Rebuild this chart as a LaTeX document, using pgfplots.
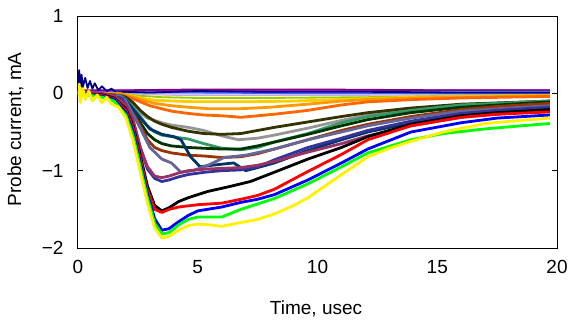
\documentclass[border=0pt]{standalone}
\usepackage{fontspec}
\setmainfont{Liberation Sans}
\usepackage{pgfplots}
\pgfplotsset{compat=1.18}
\definecolor{cNavy}{RGB}{0,0,128}
\definecolor{cPurple}{RGB}{128,0,128}
\definecolor{cMag}{RGB}{255,0,255}
\definecolor{cCyan}{RGB}{0,255,255}
\definecolor{cLGreen}{RGB}{204,255,204}
\definecolor{cLav}{RGB}{204,204,255}
\definecolor{cRoyal}{RGB}{51,102,255}
\definecolor{cLilac}{RGB}{204,153,255}
\definecolor{cLYel}{RGB}{255,255,153}
\definecolor{cYG}{RGB}{153,204,0}
\definecolor{cGold}{RGB}{255,204,0}
\definecolor{cOr}{RGB}{255,153,0}
\definecolor{cDOr}{RGB}{255,102,0}
\definecolor{cGray}{RGB}{150,150,150}
\definecolor{cOlive}{RGB}{51,51,0}
\definecolor{cSea}{RGB}{51,153,102}
\definecolor{cDGreen}{RGB}{0,51,0}
\definecolor{cBrown}{RGB}{153,51,0}
\definecolor{cTeal}{RGB}{0,51,102}
\definecolor{cGBlue}{RGB}{102,102,153}
\definecolor{cSlate}{RGB}{51,51,153}
\definecolor{cPlum}{RGB}{153,51,102}
\begin{document}
\begin{tikzpicture}[x=1bp,y=1bp]
\useasboundingbox (-78,-76) rectangle (493,248);
\begin{axis}[
  at={(0,0)}, anchor=south west,
  scale only axis, width=479bp, height=232bp,
  xmin=0, xmax=20, ymin=-2, ymax=1,
  xtick={0,5,10,15,20}, xticklabels={0,5,10,15,20},
  ytick={-2,-1,0,1}, yticklabels={−2,−1,0,1},
  tick align=inside, major tick length=5bp,
  xtick style={draw=none},
  ytick pos=both, yticklabel pos=left,
  tick style={black, line width=0.8bp},
  axis line style={black, line width=1bp},
  font=\fontsize{19bp}{22bp}\selectfont,
  yticklabel style={xshift=-11bp},
  xticklabel style={yshift=-9bp},
  xlabel={Time, usec}, ylabel={Probe current, mA},
  xlabel style={at={(axis description cs:0.497,-0.263)}, anchor=center},
  ylabel style={at={(axis description cs:-0.1305,0.511)}, anchor=center},
  clip=true,
  every axis plot/.append style={line width=2.8bp, line join=round, mark=none},
  thinl/.style={line width=1.8bp},
]
% top cluster
\addplot[cLYel, thinl] coordinates {(0,0)(2,-0.01)(4,-0.03)(8,-0.03)(12,-0.03)(16,-0.02)(19.7,-0.02)};
\addplot[cLilac, thinl] coordinates {(0,0)(2,0)(4,-0.02)(8,-0.02)(12,-0.02)(16,-0.01)(19.7,-0.01)};
\addplot[cLav, thinl] coordinates {(0,0.01)(2,0.01)(4,-0.01)(8,-0.01)(12,-0.01)(16,0.0)(19.7,0.0)};
\addplot[cLGreen, thinl] coordinates {(0,0.02)(4,0.02)(10,0.02)(15,0.02)(19.7,0.03)};
\addplot[cCyan, thinl] coordinates {(0,0.02)(4,0.03)(10,0.03)(15,0.03)(19.7,0.03)};
\addplot[cMag, thinl] coordinates {(0,0.03)(4,0.04)(10,0.04)(15,0.04)(19.7,0.04)};
\addplot[cPurple, thinl] coordinates {(0,0.04)(2,0.04)(5,0.05)(10,0.05)(15,0.04)(19.7,0.04)};
\addplot[cRoyal, thinl] coordinates {(0,0.01)(2,0.01)(5,0.01)(10,0)(15,0)(19.7,0)};
\addplot[cNavy, thinl] coordinates {(0,0.12)(0.05,0.3)(0.1,0.05)(0.15,0.24)(0.2,0.08)(0.3,0.2)(0.4,0.07)(0.5,0.16)(0.6,0.06)(0.7,0.13)(0.85,0.04)(1,0.09)(1.2,0.03)(1.4,0.06)(1.6,0.01)(2,0.02)(3,0.01)(5,0.03)(8,0.02)(12,0.02)(16,0.01)(19.7,0.01)};
\addplot[cYG, thinl] coordinates {(0,0)(1.8,0)(2.5,-0.03)(3.5,-0.05)(5,-0.06)(8,-0.06)(12,-0.05)(16,-0.03)(19.7,-0.02)};
\addplot[cGold] coordinates {(0,0)(1.8,-0.01)(2.2,-0.03)(2.6,-0.06)(3.2,-0.09)(4,-0.1)(5,-0.11)(7,-0.11)(9,-0.1)(11,-0.08)(14,-0.05)(19.7,-0.03)};
\addplot[cOr] coordinates {(0,0)(1.8,-0.01)(2.2,-0.04)(2.6,-0.08)(3.2,-0.13)(3.9,-0.16)(4.6,-0.18)(5.5,-0.2)(6.7,-0.2)(8,-0.18)(9.6,-0.14)(11,-0.1)(12.1,-0.08)(14,-0.06)(16,-0.05)(19.7,-0.03)};
\addplot[cDOr] coordinates {(0,0)(1.8,-0.02)(2.3,-0.07)(2.6,-0.11)(3,-0.16)(3.5,-0.2)(3.9,-0.23)(4.6,-0.26)(5.25,-0.28)(6,-0.29)(6.8,-0.31)(8.2,-0.27)(9.6,-0.22)(11,-0.15)(12.1,-0.11)(14,-0.08)(16,-0.06)(19.7,-0.04)};
% middle group
\addplot[cGray] coordinates {(0,0)(1.8,-0.05)(2.3,-0.15)(2.6,-0.25)(2.9,-0.32)(3.5,-0.38)(3.9,-0.41)(4.6,-0.44)(5.25,-0.48)(6,-0.55)(6.7,-0.6)(7.5,-0.58)(8.2,-0.54)(9.6,-0.45)(11,-0.35)(12.1,-0.28)(13.9,-0.2)(16,-0.15)(19.7,-0.1)};
\addplot[cOlive] coordinates {(0,0)(1.8,-0.03)(2,-0.05)(2.3,-0.12)(2.6,-0.22)(2.9,-0.3)(3.2,-0.36)(3.5,-0.4)(3.9,-0.44)(4.6,-0.49)(5.25,-0.52)(6,-0.53)(6.8,-0.52)(7.5,-0.48)(8.2,-0.44)(9.6,-0.37)(11,-0.3)(12.1,-0.25)(13.9,-0.19)(16,-0.14)(19.7,-0.1)};
\addplot[cSea] coordinates {(0,0)(1.8,-0.03)(2,-0.08)(2.6,-0.3)(2.9,-0.42)(3.2,-0.5)(3.5,-0.54)(3.9,-0.56)(4.6,-0.59)(5.25,-0.65)(6,-0.71)(6.8,-0.73)(7.5,-0.7)(8.2,-0.63)(9.6,-0.52)(11,-0.38)(12.1,-0.3)(13.9,-0.22)(16,-0.15)(19.7,-0.1)};
\addplot[cDGreen] coordinates {(0,0)(1.8,-0.04)(2,-0.1)(2.3,-0.22)(2.6,-0.38)(2.9,-0.52)(3.2,-0.6)(3.5,-0.65)(3.9,-0.68)(4.6,-0.7)(5.25,-0.71)(6,-0.72)(6.8,-0.72)(7.5,-0.68)(8.2,-0.63)(9.6,-0.53)(11,-0.42)(12.1,-0.34)(13.9,-0.25)(16,-0.18)(19.7,-0.11)};
\addplot[cBrown] coordinates {(0,0)(1.5,-0.02)(2,-0.12)(2.3,-0.25)(2.6,-0.42)(2.9,-0.6)(3.2,-0.7)(3.5,-0.74)(3.9,-0.77)(4.6,-0.8)(5.25,-0.81)(6,-0.83)(6.8,-0.82)(7.5,-0.78)(8.2,-0.72)(9.6,-0.6)(11,-0.48)(12.1,-0.4)(13.9,-0.3)(16,-0.21)(17.5,-0.17)(19.7,-0.13)};
\addplot[cTeal] coordinates {(0,0)(1.8,-0.04)(2,-0.09)(2.6,-0.32)(3,-0.46)(3.5,-0.53)(4,-0.56)(4.3,-0.6)(4.7,-0.82)(5.1,-0.95)(5.6,-0.93)(6.5,-0.9)(7,-1.0)(7.5,-0.96)(8.2,-0.9)(9.6,-0.74)(11,-0.6)(12.1,-0.5)(13.9,-0.38)(16,-0.27)(19.7,-0.2)};
\addplot[cGBlue] coordinates {(0,0)(1.8,-0.04)(2,-0.1)(2.6,-0.45)(3,-0.7)(3.5,-0.85)(3.9,-0.9)(4.3,-1.02)(4.8,-1.0)(5.5,-0.92)(6.1,-0.83)(7,-0.8)(8.2,-0.72)(9.6,-0.6)(11,-0.5)(12.1,-0.42)(13.9,-0.32)(16,-0.23)(19.7,-0.16)};
\addplot[cSlate] coordinates {(0,0)(1.8,-0.06)(2,-0.15)(2.3,-0.35)(2.6,-0.7)(2.9,-0.98)(3.2,-1.1)(3.5,-1.14)(3.8,-1.12)(4.2,-1.08)(4.6,-1.05)(5.3,-1.02)(6,-1.0)(6.8,-0.99)(7.5,-0.95)(8.2,-0.86)(9.6,-0.7)(11,-0.58)(12.1,-0.48)(13.9,-0.36)(16,-0.26)(17.5,-0.22)(19.7,-0.18)};
\addplot[cPlum] coordinates {(0,0.02)(1,0)(1.5,-0.03)(2,-0.15)(2.3,-0.35)(2.6,-0.7)(2.9,-0.95)(3.2,-1.07)(3.5,-1.09)(3.8,-1.07)(4.2,-1.03)(4.6,-1.0)(5.3,-0.98)(6,-0.97)(6.8,-0.96)(7.5,-0.93)(8.2,-0.88)(9.6,-0.76)(11,-0.65)(12.1,-0.55)(13.9,-0.42)(16,-0.31)(17.5,-0.27)(19.7,-0.22)};
% bottom group
\addplot[black] coordinates {(0,0)(1,-0.02)(1.5,-0.06)(2,-0.2)(2.3,-0.42)(2.6,-0.8)(2.9,-1.2)(3.2,-1.45)(3.5,-1.52)(3.8,-1.48)(4.2,-1.4)(4.6,-1.35)(5.4,-1.27)(6.4,-1.2)(7.2,-1.14)(8.2,-1.02)(9.6,-0.85)(11,-0.7)(12.1,-0.56)(13.9,-0.4)(16,-0.29)(17.5,-0.25)(19.7,-0.21)};
\addplot[red] coordinates {(0,0)(1,-0.03)(1.5,-0.07)(2,-0.22)(2.3,-0.45)(2.6,-0.85)(2.9,-1.25)(3.2,-1.5)(3.5,-1.54)(3.8,-1.5)(4.2,-1.47)(5,-1.44)(6,-1.42)(6.8,-1.37)(7.5,-1.32)(8.2,-1.24)(9.6,-1.01)(11,-0.79)(12.1,-0.6)(13.9,-0.42)(16,-0.31)(17.5,-0.27)(19.7,-0.24)};
\addplot[blue] coordinates {(0,0)(1,-0.04)(1.5,-0.08)(2,-0.25)(2.3,-0.5)(2.6,-0.9)(2.9,-1.3)(3.2,-1.62)(3.5,-1.77)(3.8,-1.75)(4.2,-1.66)(4.6,-1.58)(5,-1.52)(6,-1.47)(6.8,-1.41)(7.5,-1.37)(8.2,-1.31)(9.6,-1.12)(11,-0.9)(12.1,-0.72)(13.9,-0.5)(16,-0.38)(17.5,-0.32)(19.7,-0.28)};
\addplot[green] coordinates {(0,0)(1,-0.05)(1.5,-0.1)(2,-0.28)(2.3,-0.55)(2.6,-0.95)(2.9,-1.35)(3.2,-1.68)(3.5,-1.82)(3.8,-1.8)(4.2,-1.7)(4.6,-1.63)(5,-1.6)(6,-1.6)(6.8,-1.5)(7.5,-1.43)(8.2,-1.36)(9.6,-1.17)(11,-0.95)(12.1,-0.77)(13.9,-0.6)(15.25,-0.52)(17,-0.46)(18.5,-0.42)(19.7,-0.39)};
\addplot[yellow] coordinates {(0,-0.05)(0.05,0.12)(0.1,-0.12)(0.2,0.06)(0.3,-0.08)(0.45,0.03)(0.6,-0.1)(0.8,-0.02)(1,-0.12)(1.2,-0.05)(1.4,-0.14)(1.7,-0.18)(2,-0.32)(2.3,-0.62)(2.6,-1.02)(2.9,-1.42)(3.2,-1.74)(3.5,-1.87)(3.8,-1.85)(4.2,-1.77)(4.6,-1.71)(5,-1.69)(5.5,-1.7)(6,-1.72)(6.8,-1.67)(7.5,-1.63)(8.2,-1.56)(9,-1.45)(9.6,-1.35)(10.3,-1.2)(11,-1.05)(12.1,-0.82)(13,-0.71)(13.9,-0.62)(15.25,-0.5)(17,-0.39)(18.5,-0.35)(19.7,-0.32)};
\end{axis}
\end{tikzpicture}
\end{document}
